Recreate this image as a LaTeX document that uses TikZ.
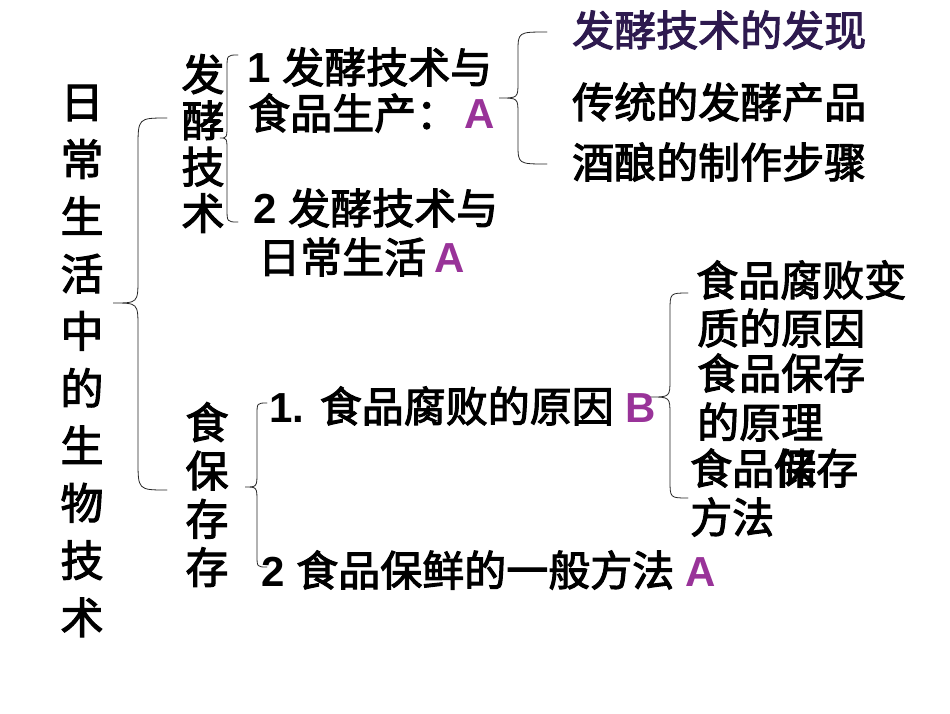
\documentclass[tikz,border=0pt]{standalone}
\usepackage{fontspec}
\setmainfont{Noto Sans CJK SC}[FakeBold=2.5]
\newfontfamily\latfont{Liberation Sans}
\newcommand\LB[1]{{\latfont\bfseries #1}}
\definecolor{apurple}{HTML}{993399}
\definecolor{dpurple}{HTML}{2E1A4F}
% #1 name, #2 xe, #3 xv, #4 xt, #5 yt, #6 ym, #7 yb, #8 end radius, #9 tip radius
\newcommand\drawbrace[9]{%
  \coordinate (#1-t) at (#2,#5);
  \coordinate (#1-m) at (#4,#6);
  \coordinate (#1-b) at (#2,#7);
  \draw[brc] (#1-t) .. controls (#3,#5) .. (#3,#5+#8) -- (#3,#6-#9)
     .. controls (#3,#6) .. (#1-m) .. controls (#3,#6) .. (#3,#6+#9)
     -- (#3,#7-#8) .. controls (#3,#7) .. (#1-b);
}
\begin{document}
\begin{tikzpicture}[x=1pt,y=-1pt,
  txt/.style={inner sep=0pt, anchor=west, font=\fontsize{42}{50}\selectfont},
  vcol/.style={inner sep=0pt, align=center, font=\fontsize{43}{#1}\selectfont},
  brc/.style={line width=0.8pt, black!85, line cap=round}]
\fill[white] (0,0) rectangle (950,713);
\useasboundingbox (0,0) rectangle (950,713);

% vertical titles
\node[vcol=57.3] (title) at (82,361) {日\\常\\生\\活\\中\\的\\生\\物\\技\\术};
\node[vcol=46.3] (fj) at (203,143.5) {发\\酵\\技\\术};
\node[vcol=48.3] (sp) at (207,494.5) {食\\保\\存\\存};

% braces
\drawbrace{b0}{167}{138}{113}{118}{303}{490}{30}{25}
\drawbrace{b1}{238}{227}{220}{55}{138}{222}{14}{14}
\drawbrace{b2}{547}{518}{499}{32}{98}{164}{20}{16}
\drawbrace{b3}{267}{257}{245}{403}{487}{567}{12}{15}
\drawbrace{b4}{688}{670}{650}{293}{397}{498}{18}{18}

% fermentation items
\node[txt] (i1a) at (247,67) {\LB{1 }发酵技术与};
\node[txt] (i1b) at (248,113) {食品生产：\hspace{6pt}\textcolor{apurple}{\LB{A}}};
\node[txt] (i2a) at (253,208) {\LB{2 }发酵技术与};
\node[txt] (i2b) at (258,257) {日常生活\hspace{8pt}\textcolor{apurple}{\LB{A}}};

\node[txt, text=dpurple] (r1) at (572,30) {发酵技术的发现};
\node[txt] (r2) at (572,102) {传统的发酵产品};
\node[txt] (r3) at (572,162) {酒酿的制作步骤};

% preservation items
\node[txt] (p1) at (269,406) {\LB{1. }食品腐败的原因\LB{ }\textcolor{apurple}{\LB{B}}};
\node[txt] (p2) at (261,570) {\LB{2 }食品保鲜的一般方法\LB{ }\textcolor{apurple}{\LB{A}}};

\node[txt] (q1) at (696,280) {食品腐败变};
\node[txt] (q2) at (697,328) {质的原因};
\node[txt] (q3) at (697,373) {食品保存};
\node[txt] (q4) at (697,422) {的原理};
\node[txt] (q5) at (690,468) {食品\rlap{保}储存};
\node[txt] (q6) at (690,517) {方法};
\end{tikzpicture}
\end{document}
